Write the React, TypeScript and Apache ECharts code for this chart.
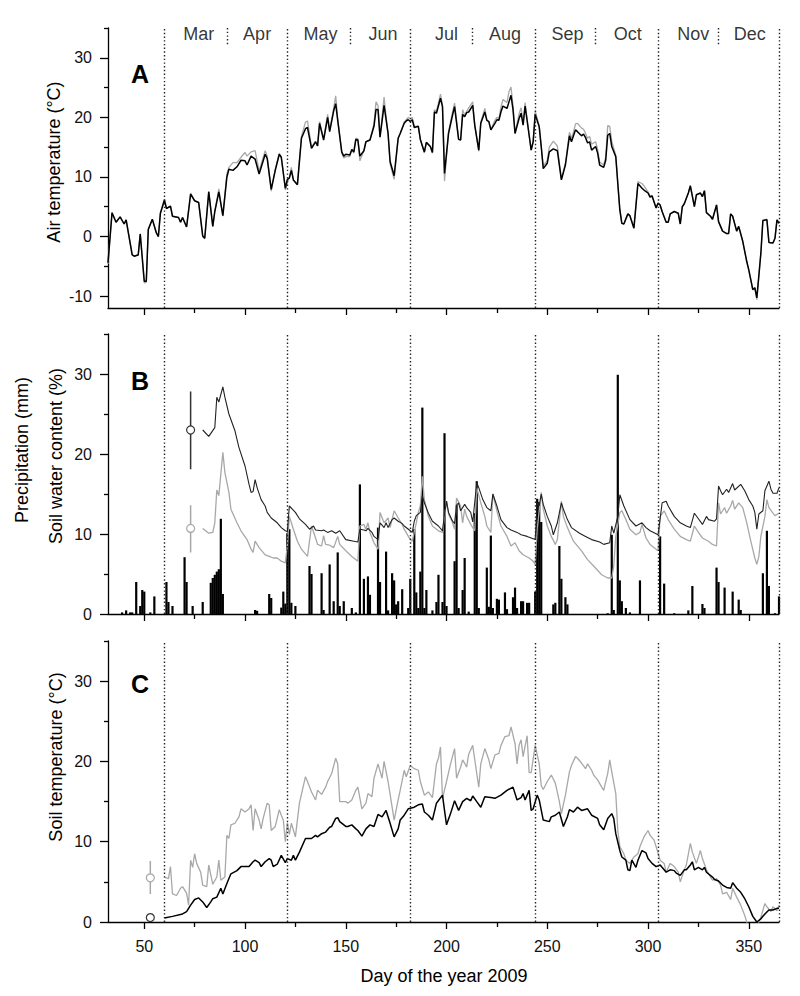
import React, { useEffect, useRef } from "react";
import * as echarts from "echarts";

const FONT = '"Liberation Sans", Arial, Helvetica, sans-serif';

const X_MIN = 32;
const X_MAX = 365;
const xMajorTicks = [50, 100, 150, 200, 250, 300, 350];
const xMinorTicks = [75, 125, 175, 225, 275, 325];
const monthStarts = [60, 121, 182, 244, 305, 365];
const monthMids = [91, 152, 213, 274, 335];
const monthNames = ["Mar", "Apr", "May", "Jun", "Jul", "Aug", "Sep", "Oct", "Nov", "Dec"];
const monthLabelDays = [77, 106, 137.5, 168.5, 200, 229, 260, 290, 322.5, 350.5];

// Panel A: air temperature
const airDays = [32,34,36,38,40,41,44,45,47,48,50,51,52,54,56,57,58,60,61,63,64,67,68,69,71,73,75,77,79,80,82,84,85,87,89,91,92,94,96,98,100,101,103,105,107,110,111,113,115,117,118,120,121,122,123,124,126,128,130,131,133,135,136,137,139,141,142,144,145,146,148,149,150,152,153,154,155,156,157,159,160,162,164,165,166,167,169,171,172,174,176,177,179,180,181,182,183,184,186,187,189,190,192,193,194,195,197,198,199,201,203,204,206,207,208,209,210,211,213,214,216,217,219,220,221,222,224,225,226,227,228,230,231,232,233,234,236,237,238,239,241,242,243,244,246,247,248,250,251,253,255,257,259,261,262,263,264,265,267,268,269,270,271,272,274,275,276,278,279,280,281,282,284,285,286,287,288,290,291,293,295,297,298,300,301,302,304,305,306,307,309,310,311,313,315,316,317,318,320,321,323,324,326,327,328,329,331,332,334,335,337,339,340,341,342,344,345,347,349,350,352,353,354,356,357,359,360,362,363,364,365];
const airBlack = [-4.4,4.0,2.4,3.3,2.1,2.8,-3.1,-3.3,-3.1,0.4,-7.5,-7.5,1.2,2.9,0.6,0.0,3.9,6.1,4.7,5.1,3.4,3.2,2.4,3.2,1.6,7.1,6.0,5.7,0.1,-0.3,7.5,1.7,4.2,7.5,3.5,10.0,11.3,11.1,11.7,12.8,12.7,12.0,13.5,13.0,10.5,13.8,13.1,7.9,11.1,13.8,13.3,8.1,9.6,9.8,11.1,9.5,8.7,16.5,18.1,18.3,14.8,15.9,15.2,19.0,16.2,20.0,17.6,21.1,22.3,19.5,14.2,13.5,13.8,13.7,14.6,14.2,16.3,16.2,13.5,14.4,15.9,16.2,18.5,21.3,21.3,16.7,22.0,17.3,12.6,10.2,16.5,17.3,19.0,19.4,19.6,19.3,19.6,18.3,18.5,16.3,14.2,15.8,15.1,14.1,20.9,20.7,23.2,21.8,10.6,17.3,20.4,21.8,16.3,16.2,20.5,20.1,20.8,20.9,22.0,18.7,14.5,19.0,20.9,19.5,19.3,17.9,19.0,19.6,19.5,20.9,21.9,21.5,22.6,23.7,21.3,17.3,19.8,20.7,18.7,21.9,17.0,14.5,15.9,20.5,18.4,15.1,11.4,12.3,14.2,14.7,14.4,9.5,12.0,16.9,15.9,16.9,17.9,17.6,16.9,17.2,16.6,15.7,15.9,14.5,15.1,14.0,12.0,11.6,12.8,17.0,17.3,15.1,13.4,8.9,4.5,2.2,2.1,3.8,3.5,1.4,8.9,8.1,7.8,7.3,6.6,6.8,4.8,5.6,5.3,4.2,2.4,2.4,3.8,4.2,3.9,2.1,5.0,5.5,7.3,8.5,5.0,7.0,7.3,6.7,7.7,4.0,3.4,2.9,5.3,2.5,0.9,0.5,0.5,3.8,3.4,0.9,1.7,-0.8,-4.2,-5.6,-8.9,-8.6,-10.3,-2.8,2.7,2.8,-1.0,-1.1,-0.3,2.8,2.2];
const airGray = [-4.6,4.0,2.4,3.3,2.1,2.8,-3.0,-3.3,-3.0,0.5,-7.8,-7.7,1.2,2.9,0.6,0.0,3.9,6.3,4.7,5.1,3.4,3.2,2.4,3.2,1.6,7.3,6.0,5.7,0.0,-0.4,7.6,1.7,4.2,8.0,3.4,10.5,11.6,12.4,12.4,13.3,14.1,13.5,14.2,14.4,11.0,14.4,13.5,7.6,11.3,14.0,13.3,7.8,9.0,10.0,11.6,9.5,8.7,16.8,19.2,19.4,15.0,16.0,15.2,19.3,16.4,20.5,17.8,21.6,23.6,19.8,14.0,13.2,13.4,13.4,14.6,14.0,16.5,16.4,12.7,14.4,15.9,16.2,18.9,22.6,22.0,16.5,23.4,17.0,12.2,9.6,16.5,17.3,19.2,19.6,20.0,19.8,20.0,18.5,18.5,16.3,14.0,15.8,15.0,14.0,21.3,21.0,23.9,22.0,9.3,17.6,20.9,22.4,16.3,16.2,21.3,20.3,21.0,21.6,22.6,18.7,14.3,19.2,21.5,19.6,19.3,17.9,19.5,20.0,19.8,21.7,23.0,22.5,24.3,25.1,22.0,17.3,20.6,21.6,19.0,22.5,17.0,14.5,15.9,21.1,18.6,15.1,11.8,12.8,15.0,16.0,15.2,9.6,12.3,17.5,16.5,17.5,18.9,19.0,18.2,18.0,17.3,16.5,16.8,15.5,15.9,14.6,12.5,12.0,13.3,18.6,18.5,16.0,13.6,8.9,4.5,2.2,2.1,3.8,3.5,1.4,9.2,8.9,8.5,7.5,6.8,6.9,4.8,5.6,5.3,4.2,2.4,2.4,3.8,4.2,3.9,2.1,5.0,5.5,7.3,8.6,5.0,7.0,7.3,6.7,7.7,4.0,3.4,2.9,5.3,2.5,0.9,0.5,0.5,3.8,3.4,0.9,1.7,-0.8,-4.2,-5.6,-9.0,-8.6,-10.6,-2.8,2.7,2.9,-1.0,-1.1,-0.3,2.8,2.2];

// Panel B: precipitation (bars) and soil water content
const rainDays = [39,41,43,44,46,48,49,50,53,55,61,62,64,70,71,74,79,83,84,85,86,87,88,89,105,106,112,113,118,119,120,121,122,123,125,132,133,138,139,142,144,146,147,149,153,155,157,159,161,162,166,167,170,171,173,174,175,176,178,181,182,184,185,186,187,188,189,190,193,195,196,198,199,200,204,205,206,208,209,211,214,215,216,220,221,222,223,225,226,229,230,233,234,235,237,238,240,241,244,245,246,247,253,254,256,257,259,260,280,282,283,285,286,287,289,291,296,306,308,313,320,322,327,328,334,335,338,342,345,346,357,359,360,363,365];
const rainMm = [0.2,0.45,0.2,0.2,4.0,1.0,3.0,2.8,0.2,2.2,4.0,1.5,1.0,7.1,4.0,1.0,1.5,3.9,4.5,4.9,5.3,5.6,11.9,2.5,0.5,0.4,2.5,2.0,0.8,2.8,1.3,10.1,10.6,1.4,1.0,6.0,5.0,5.1,0.5,6.2,1.6,7.7,1.0,1.6,0.75,0.2,16.2,4.4,4.7,2.4,10.8,4.0,7.8,0.45,5.1,4.2,1.2,1.6,3.1,0.75,4.4,10.6,2.7,0.75,5.3,25.8,0.75,3.0,0.45,1.5,4.9,1.5,22.6,1.0,6.6,13.6,0.75,3.0,7.0,0.3,12.6,16.6,0.75,5.8,0.9,9.8,0.75,1.9,1.8,2.7,0.6,2.1,3.3,0.75,1.6,1.6,1.4,1.4,2.8,14.4,14.0,11.5,1.2,1.4,8.5,4.4,2.1,1.2,0.1,9.9,0.5,29.9,4.2,1.6,0.75,0.2,4.2,9.7,3.8,0.1,0.45,3.5,1.25,0.75,5.8,4.0,3.3,2.8,1.8,0.5,5.1,10.4,3.5,0.1,2.2];

const swcBlackDays = [79,82,85,86,87,89,90,92,95,97,100,102,103,104,105,106,108,110,111,113,116,118,120,121,122,125,127,130,132,134,135,138,139,141,143,145,147,150,154,156,157,159,160,161,163,164,166,167,168,169,170,171,173,174,176,178,179,182,183,184,185,187,188,189,191,193,196,198,199,200,201,203,204,205,206,207,209,210,212,213,215,216,218,220,222,223,225,227,230,232,235,237,240,242,244,245,246,247,248,250,252,253,255,257,258,260,262,266,269,272,276,278,281,282,283,285,286,288,291,294,297,299,301,305,307,309,310,313,316,319,321,323,325,327,329,330,333,334,335,336,337,339,340,342,343,346,348,350,352,353,354,355,357,358,360,361,362,364,365];
const swcBlack = [23.0,22.2,23.3,27.1,26.5,28.4,27.1,25.0,22.9,20.8,18.5,16.2,15.2,15.3,16.8,15.8,14.3,13.5,12.7,12.0,11.4,10.8,10.4,10.3,13.5,12.7,11.9,11.2,10.6,11.0,10.5,10.4,10.5,10.2,10.4,10.1,10.4,9.3,9.1,9.0,10.6,10.5,10.4,10.7,10.2,9.7,9.3,11.4,11.1,10.8,11.4,10.8,11.8,12.0,11.6,11.3,11.0,10.4,10.2,11.6,12.3,12.7,14.8,13.9,12.6,11.6,11.0,10.4,12.5,14.1,12.7,11.6,11.3,13.6,13.9,12.9,13.7,13.3,12.7,11.5,16.4,15.8,14.3,13.3,12.9,15.0,13.5,11.8,10.8,10.5,10.2,9.9,9.7,9.5,9.3,13.9,13.5,15.0,13.7,12.2,11.0,9.9,11.4,13.9,13.1,11.8,10.8,10.1,9.7,9.3,9.0,8.7,8.9,11.0,10.1,12.2,14.9,13.5,11.8,11.0,11.4,10.8,10.4,9.9,13.9,14.1,13.5,12.2,11.4,11.0,10.8,12.6,11.9,11.2,12.2,11.8,11.6,11.9,16.0,15.4,14.9,15.6,15.2,16.3,15.5,16.2,15.4,14.3,13.5,12.7,10.6,12.5,12.9,15.4,16.6,15.6,15.1,15.1,15.8];

const swcGrayDays = [79,82,84,85,86,87,89,90,92,93,96,98,101,103,104,105,107,110,112,114,116,118,120,121,122,124,126,128,131,132,133,135,136,138,139,140,142,144,146,147,150,153,156,157,159,160,161,162,164,166,167,169,171,172,174,176,178,179,182,183,185,186,187,188,189,191,193,196,198,200,201,203,204,205,207,208,209,210,212,214,215,217,219,220,222,223,225,227,230,232,234,236,238,241,243,244,245,246,247,248,250,252,254,255,257,258,260,263,267,270,273,277,280,282,283,284,286,287,289,291,294,296,297,299,301,304,305,306,308,310,313,316,319,321,323,325,327,330,332,334,335,336,338,339,341,342,343,345,347,349,351,353,354,355,356,358,359,360,362,363,365];
const swcGray = [10.7,10.1,10.2,11.4,15.5,14.8,20.2,17.7,15.2,13.1,11.4,10.4,9.3,8.1,7.7,9.1,8.3,7.4,7.2,7.0,7.0,6.6,6.4,8.5,12.2,10.6,9.1,8.1,7.2,9.1,11.0,9.5,8.7,8.5,9.8,8.7,8.6,8.3,9.7,8.7,7.9,7.2,6.6,11.0,11.2,10.6,11.4,10.2,8.9,8.1,12.7,11.4,12.0,10.8,12.9,12.0,11.2,10.6,9.3,9.1,11.4,12.7,13.5,17.2,14.3,12.2,11.0,10.4,10.2,14.1,12.5,11.4,10.6,14.5,13.5,11.4,13.1,12.2,11.2,10.4,15.8,13.9,12.2,11.0,10.2,15.0,12.9,11.0,9.7,8.5,8.9,7.9,7.4,7.0,6.6,6.2,10.6,12.9,15.2,13.1,11.0,9.7,8.7,9.3,14.1,12.2,10.8,9.1,7.9,6.8,6.0,4.9,4.5,4.5,6.0,9.7,12.7,12.9,11.8,10.6,9.9,10.2,11.2,9.5,8.7,8.1,7.9,12.2,12.9,11.8,10.6,9.7,9.3,9.1,11.0,10.2,9.5,9.1,8.7,8.5,13.9,12.5,13.3,12.6,13.5,14.2,13.1,13.9,13.3,11.4,9.1,7.0,6.2,7.2,9.7,12.2,14.3,13.3,12.6,12.3,12.6];

// Means +- SD shown left of the series
const swcRefDay = 73;
const swcRefBlack = [18.1, 23.0, 27.8];
const swcRefGray = [7.7, 10.7, 13.6];

// Panel C: soil temperature
const soilBlackDays = [60,64,69,71,73,75,77,79,81,83,84,86,88,89,91,93,96,98,100,102,104,105,107,108,110,112,113,114,116,118,120,121,123,124,125,127,130,133,135,136,138,140,142,143,145,146,147,150,151,153,155,156,158,160,162,164,166,168,170,172,174,176,177,179,181,184,186,188,189,191,193,195,198,199,200,202,204,206,208,210,212,213,215,217,219,222,224,227,230,233,235,237,238,239,241,242,243,245,246,248,251,252,254,256,258,260,261,263,265,267,270,272,275,276,278,280,282,283,284,286,287,289,290,291,292,294,295,297,299,300,302,304,306,308,309,311,313,314,316,318,319,321,322,323,325,327,328,329,332,333,335,337,339,341,342,344,346,348,350,352,354,356,358,360,362,364,365];
const soilBlack = [0.5,0.7,1.0,1.3,2.1,2.8,3.0,2.5,1.8,2.5,2.9,3.1,4.2,3.5,4.8,6.0,6.4,6.9,6.9,6.9,7.5,7.7,7.4,6.9,7.5,7.9,7.7,6.9,7.2,8.3,7.4,7.9,7.7,8.3,7.7,8.7,10.4,10.4,10.8,10.6,11.0,11.2,11.8,11.9,12.9,13.0,12.5,11.9,11.9,12.1,11.6,11.4,10.7,11.6,12.1,11.9,13.4,13.1,13.9,12.3,10.6,11.6,12.7,13.3,14.1,14.3,14.6,14.7,13.7,13.3,12.7,14.8,15.8,13.9,12.1,13.5,15.1,13.9,15.0,15.4,15.1,15.7,15.0,14.3,15.6,15.5,15.4,15.8,16.4,16.8,15.2,15.5,16.0,15.2,16.4,13.9,14.1,15.8,15.2,12.7,12.5,13.1,13.3,13.7,11.9,13.1,14.0,13.7,14.3,13.9,14.1,13.3,12.9,12.1,11.5,12.9,13.5,12.9,11.0,8.9,8.1,7.7,6.5,6.4,7.7,6.8,7.7,8.9,8.6,7.9,7.3,6.9,7.1,6.5,6.2,6.5,6.4,6.1,5.8,6.5,6.5,7.1,7.5,6.5,6.8,6.5,6.8,6.2,5.6,5.3,5.1,4.6,4.3,4.2,4.9,4.2,3.7,2.9,1.9,0.7,0.0,0.4,1.0,1.5,1.5,1.7,1.7];
const soilGrayDays = [60,62,63,64,66,68,69,71,72,73,74,75,76,78,79,81,82,84,86,87,88,90,91,92,93,95,97,98,100,102,103,104,105,107,108,109,111,112,113,115,117,118,119,120,121,122,123,125,127,130,131,133,135,136,138,140,141,143,145,146,147,150,151,153,155,156,158,160,161,163,164,166,168,169,171,173,174,176,177,179,180,182,184,186,187,189,191,193,195,196,197,198,200,202,204,205,207,208,210,211,213,215,216,217,219,221,222,224,226,227,229,231,232,234,235,236,237,238,240,241,242,244,246,247,248,250,252,254,256,257,259,261,262,264,265,267,269,270,272,273,275,277,278,280,281,282,284,285,286,288,289,291,293,295,296,298,300,301,303,304,306,308,309,311,313,315,316,318,319,321,322,324,326,327,329,331,332,334,336,337,339,341,342,344,346,348,349,351,353,355,356,358,359,361,362,364,365];
const soilGray = [5.6,5.4,6.9,3.5,3.3,4.2,4.4,3.6,2.1,7.7,6.8,8.5,7.3,6.2,4.6,4.4,7.1,4.7,5.6,7.7,5.2,5.6,10.8,10.4,12.1,12.3,13.1,14.1,13.7,14.1,14.6,11.4,14.1,12.7,11.6,12.9,14.8,14.6,11.4,11.9,14.0,13.3,12.7,10.0,12.4,10.9,12.3,10.6,14.8,18.1,17.5,16.2,15.2,16.4,15.9,16.8,17.5,18.5,20.4,19.7,15.0,15.0,14.8,15.2,16.4,16.8,14.1,14.8,16.0,15.6,17.9,19.7,17.9,20.0,17.5,14.3,12.7,15.2,16.4,18.9,18.1,19.5,19.1,18.9,17.5,15.8,16.2,15.5,19.7,20.4,21.8,15.4,17.5,19.7,21.6,17.9,19.3,20.2,19.3,20.9,22.0,18.5,16.8,19.7,21.6,20.2,19.1,20.8,21.0,22.0,23.1,23.2,24.3,22.2,19.7,22.0,22.7,20.6,23.2,18.6,18.6,22.0,19.7,17.0,16.5,17.5,18.3,17.3,15.0,13.5,15.8,18.7,19.5,20.6,20.4,19.8,19.1,19.7,18.9,18.3,17.7,16.8,16.4,18.5,20.2,18.7,16.0,11.4,9.4,8.5,7.7,7.3,8.1,8.5,9.4,10.6,11.4,10.8,10.2,9.4,7.7,7.3,6.2,7.3,6.9,6.2,5.0,6.5,7.1,9.8,8.7,7.3,8.9,7.9,6.5,5.6,5.2,5.4,4.6,3.5,3.7,2.8,4.2,3.1,2.1,0.8,0.0,-1.5,-1.8,0.0,0.6,2.3,1.9,1.3,1.9,1.4,2.1];

const soilRefDay = 53;
const soilRefBlack = [0.2, 0.55, 0.9];
const soilRefGray = [3.5, 5.5, 7.6];

const pairs = (d: number[], v: number[]) => d.map((x, i) => [x, v[i]]);

const GRIDS = [
  { left: 108, top: 28, width: 671, height: 280 },
  { left: 108, top: 334, width: 671, height: 280 },
  { left: 108, top: 641, width: 671, height: 281 },
];
const Y_RANGES = [
  { min: -12, max: 35, major: [-10, 0, 10, 20, 30], minor: [-5, 5, 15, 25, 35] },
  { min: 0, max: 35, major: [0, 10, 20, 30], minor: [5, 15, 25, 35] },
  { min: 0, max: 35, major: [0, 10, 20, 30], minor: [5, 15, 25, 35] },
];

const AXIS_COLOR = "#000";
const DOT = [1.4, 2.3];

function buildOption() {
  const xAxis: any[] = [];
  const yAxis: any[] = [];
  GRIDS.forEach((_, i) => {
    xAxis.push({
      type: "value", gridIndex: i, position: "bottom", min: X_MIN, max: X_MAX,
      axisLine: { show: true, onZero: false, lineStyle: { color: AXIS_COLOR, width: 1.3 } },
      axisTick: { show: true, customValues: xMajorTicks, length: 7, lineStyle: { color: AXIS_COLOR, width: 1.3 } },
      axisLabel: { show: i === 2, customValues: xMajorTicks, fontSize: 16, fontFamily: FONT, color: "#111", margin: 16 },
      splitLine: { show: false },
    });
    xAxis.push({
      type: "value", gridIndex: i, position: "bottom", min: X_MIN, max: X_MAX,
      axisLine: { show: false, onZero: false },
      axisTick: { show: true, customValues: xMinorTicks, length: 5, lineStyle: { color: AXIS_COLOR, width: 1.3 } },
      axisLabel: { show: false },
      splitLine: { show: false },
    });
    const yr = Y_RANGES[i];
    yAxis.push({
      type: "value", gridIndex: i, position: "left", min: yr.min, max: yr.max,
      axisLine: { show: true, onZero: false, lineStyle: { color: AXIS_COLOR, width: 1.3 } },
      axisTick: { show: true, customValues: yr.major, length: 8, lineStyle: { color: AXIS_COLOR, width: 1.3 } },
      axisLabel: { show: true, customValues: yr.major, fontSize: 16, fontFamily: FONT, color: "#111", margin: 16 },
      splitLine: { show: false },
    });
    yAxis.push({
      type: "value", gridIndex: i, position: "left", min: yr.min, max: yr.max,
      axisLine: { show: false, onZero: false },
      axisTick: { show: true, customValues: yr.minor, length: 4, lineStyle: { color: AXIS_COLOR, width: 1.3 } },
      axisLabel: { show: false },
      splitLine: { show: false },
    });
  });

  const dottedLines = (extra: any[] = []) => ({
    silent: true,
    symbol: ["none", "none"],
    label: { show: false },
    lineStyle: { color: "#222", width: 1.4, type: DOT, opacity: 1 },
    emphasis: { disabled: true },
    data: [...monthStarts.map((d) => ({ xAxis: d })), ...extra],
  });

  const line = (p: number, data: any[], color: string, width: number, extra: any = {}) => ({
    type: "line", xAxisIndex: p * 2, yAxisIndex: p * 2, data,
    symbol: "none", showSymbol: false, clip: true,
    lineStyle: { color, width }, itemStyle: { color }, silent: true, ...extra,
  });

  const circle = (p: number, day: number, v: number, color: string) => ({
    type: "scatter", xAxisIndex: p * 2, yAxisIndex: p * 2, data: [[day, v]],
    symbol: "circle", symbolSize: 8, silent: true, z: 5,
    itemStyle: { color: "#fff", borderColor: color, borderWidth: 1.2, opacity: 1 },
  });

  const series: any[] = [
    // Panel A
    line(0, pairs(airDays, airGray), "#a8a8a8", 1.3),
    line(0, pairs(airDays, airBlack), "#000", 1.5, {
      markLine: dottedLines(monthMids.map((d) => [{ coord: [d, 35] }, { coord: [d, 32] }])),
    }),
    {
      type: "scatter", xAxisIndex: 0, yAxisIndex: 0, symbolSize: 0, silent: true,
      data: monthNames.map((n, i) => ({ name: n, value: [monthLabelDays[i], 34.05] })),
      label: { show: true, position: "inside", formatter: (p: any) => p.name, fontSize: 18, fontFamily: FONT, color: "#000" },
    },
    // Panel B
    {
      type: "bar", xAxisIndex: 2, yAxisIndex: 2, data: pairs(rainDays, rainMm),
      barWidth: 2.2, itemStyle: { color: "#000" }, silent: true,
    },
    line(1, pairs(swcGrayDays, swcGray), "#a8a8a8", 1.3),
    line(1, pairs(swcBlackDays, swcBlack), "#222", 1.1, { markLine: dottedLines() }),
    line(1, [[swcRefDay, swcRefGray[0]], [swcRefDay, swcRefGray[2]]], "#a8a8a8", 1.5),
    line(1, [[swcRefDay, swcRefBlack[0]], [swcRefDay, swcRefBlack[2]]], "#333", 1.5),
    circle(1, swcRefDay, swcRefGray[1], "#a8a8a8"),
    circle(1, swcRefDay, swcRefBlack[1], "#333"),
    // Panel C
    line(2, pairs(soilGrayDays, soilGray), "#a8a8a8", 1.3),
    line(2, pairs(soilBlackDays, soilBlack), "#000", 1.5, { markLine: dottedLines() }),
    line(2, [[soilRefDay, soilRefGray[0]], [soilRefDay, soilRefGray[2]]], "#a8a8a8", 1.5),
    line(2, [[soilRefDay, soilRefBlack[0]], [soilRefDay, soilRefBlack[2]]], "#333", 1.5),
    circle(2, soilRefDay, soilRefGray[1], "#a8a8a8"),
    circle(2, soilRefDay, soilRefBlack[1], "#333"),
  ];

  const txt = (text: string, x: number, y: number, size: number, opts: any = {}) => ({
    type: "text", x, y, rotation: opts.rotation || 0, silent: true,
    style: {
      text, fontSize: size, fontFamily: FONT, fontWeight: opts.bold ? "bold" : "normal", fill: "#000",
      align: opts.align || "center", verticalAlign: "middle",
      textAlign: opts.align || "center", textVerticalAlign: "middle",
    },
  });

  const graphic = [
    txt("A", 131, 74, 25, { bold: true, align: "left" }),
    txt("B", 131, 381, 25, { bold: true, align: "left" }),
    txt("C", 131, 684, 25, { bold: true, align: "left" }),
    txt("Air temperature (°C)", 54, 162, 18, { rotation: Math.PI / 2 }),
    txt("Precipitation (mm)", 22, 450, 18, { rotation: Math.PI / 2 }),
    txt("Soil water content (%)", 56, 456, 18, { rotation: Math.PI / 2 }),
    txt("Soil temperature (°C)", 56, 757, 18, { rotation: Math.PI / 2 }),
    txt("Day of the year 2009", 444, 976, 18),
  ];

  return {
    animation: false,
    backgroundColor: "#fff",
    textStyle: { fontFamily: FONT },
    grid: GRIDS.map((g) => ({ ...g, containLabel: false })),
    xAxis,
    yAxis,
    series,
    graphic,
  };
}

export default function App() {
  const ref = useRef<HTMLDivElement>(null);
  useEffect(() => {
    if (!ref.current) return;
    const chart = echarts.init(ref.current, undefined, { renderer: "svg" });
    chart.setOption(buildOption() as any);
    return () => chart.dispose();
  }, []);
  return (
    <div
      ref={ref}
      style={{ position: "fixed", left: 0, top: 0, width: 800, height: 996, background: "#fff" }}
    />
  );
}
